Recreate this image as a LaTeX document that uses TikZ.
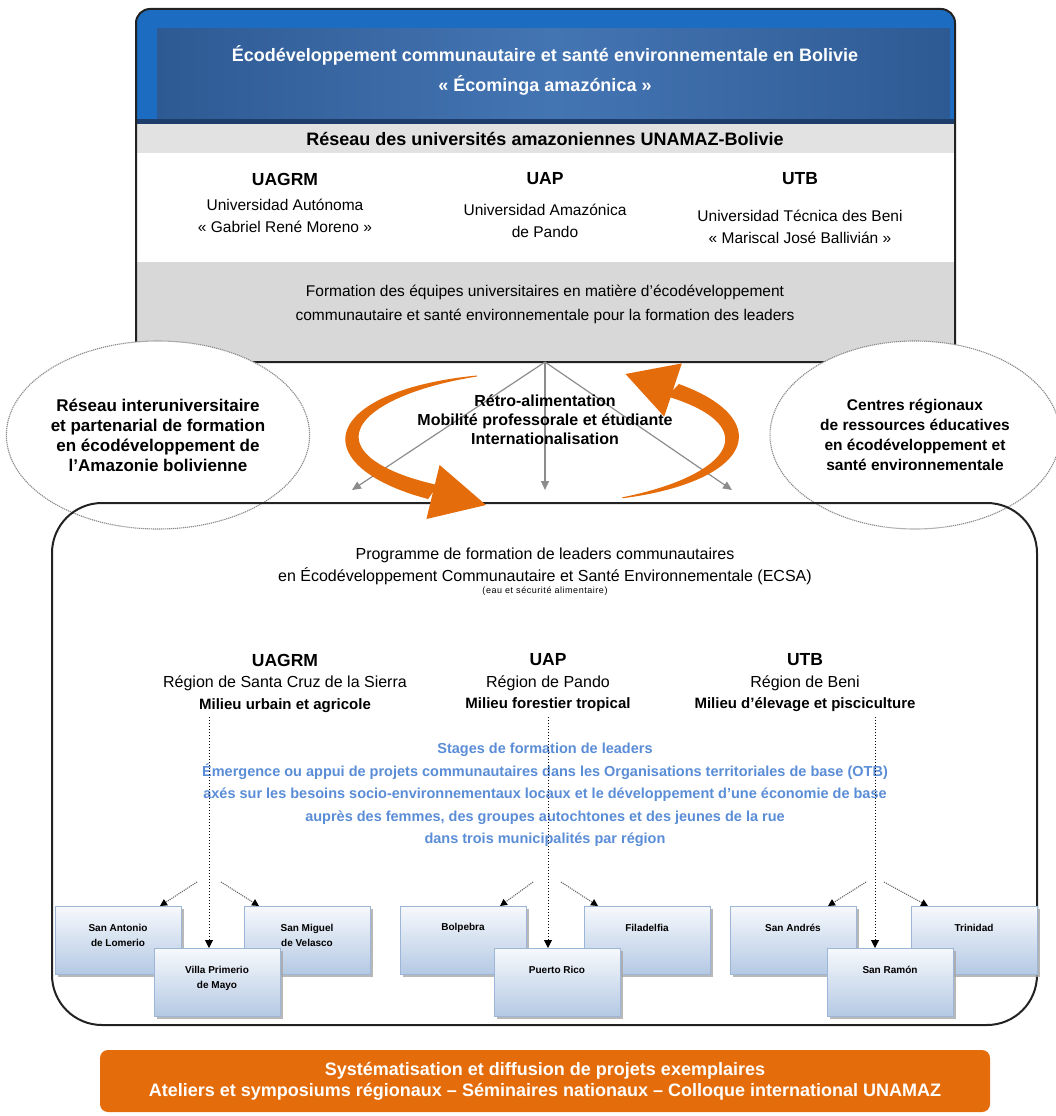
\documentclass[tikz,border=0pt]{standalone}
\usepackage{fontspec}
\setmainfont{Liberation Sans}
\usetikzlibrary{shapes.geometric,arrows.meta,shadows,calc}
\definecolor{topblue}{HTML}{1C6DC2}
\definecolor{innerdark}{HTML}{2E5A93}
\definecolor{innerlight}{HTML}{4475B3}
\definecolor{navyline}{HTML}{1D3D6B}
\definecolor{bandgray}{HTML}{E2E2E2}
\definecolor{lowgray}{HTML}{D8D8D8}
\definecolor{orng}{HTML}{E46C0A}
\definecolor{bluetxt}{HTML}{5A8DD6}
\definecolor{boxtop}{HTML}{F7F9FC}
\definecolor{boxbot}{HTML}{B4C9E4}
\definecolor{boxedge}{HTML}{9DB5D6}
\definecolor{arrowgray}{HTML}{8C8C8C}
\definecolor{ringgray}{HTML}{8A8A8A}
\definecolor{darkline}{HTML}{222222}
\newcommand{\fsz}[2]{\fontsize{#1}{#2}\selectfont}
\begin{document}
\begin{tikzpicture}[x=1pt,y=-1pt,
  every node/.style={inner sep=0pt,outer sep=0pt},
  ttl/.style={text=white,font=\bfseries\fsz{18}{30},align=center},
  bandt/.style={font=\bfseries\fsz{18}{22}},
  acr/.style={font=\bfseries\fsz{17.5}{21}},
  uname/.style={font=\fsz{15.5}{22},align=center},
  formt/.style={font=\fsz{15.5}{24},align=center},
  ringl/.style={ellipse,draw=ringgray,fill=white,line width=1.1,dash pattern=on 1.2pt off 0.8pt,align=center},
  ctrt/.style={font=\bfseries\fsz{16}{19},align=center},
  progt/.style={font=\fsz{16}{22},align=center},
  regt/.style={font=\fsz{16}{21.5},align=center},
  bluet/.style={font=\bfseries\fsz{14.5}{22.5},text=bluetxt,align=center},
  smallbox/.style={draw=boxedge,line width=0.8,top color=boxtop,bottom color=boxbot,
     minimum width=126,minimum height=68,anchor=north,
     drop shadow={shadow xshift=3pt,shadow yshift=-3pt,fill=black!35,opacity=0.8}},
  boxt/.style={font=\bfseries\fsz{10}{15},align=center},
  garrow/.style={draw=arrowgray,line width=1.2,-{Triangle[width=8pt,length=9pt]}},
  vdot/.style={draw=black,line width=1,dotted,-{Triangle[width=8pt,length=8pt]}},
  ddot/.style={draw=black!60,line width=1.1,densely dotted,-{Triangle[width=7pt,length=7pt,black]}},
]
\useasboundingbox (0,0) rectangle (1055,1116);

% ---------- top box ----------
\begin{scope}
\clip (136,362) -- (136,23) arc[start angle=180,end angle=270,radius=14] -- (941,9)
      arc[start angle=270,end angle=360,radius=14] -- (955,362) -- cycle;
\fill[topblue] (136,9) rectangle (955,124);
\shade[left color=innerdark,right color=innerdark,middle color=innerlight] (157,29) rectangle (950,119);
\fill[navyline] (136,119) rectangle (955,124);
\fill[bandgray] (136,124) rectangle (955,153);
\fill[white] (136,153) rectangle (955,262);
\fill[lowgray] (136,262) rectangle (955,362);
\end{scope}
\draw[darkline,line width=2] (136,362) -- (136,23) arc[start angle=180,end angle=270,radius=14] -- (941,9)
      arc[start angle=270,end angle=360,radius=14] -- (955,362) -- cycle;

\node[ttl] (title) at (545,70) {Écodéveloppement communautaire et santé environnementale en Bolivie\\« Écominga amazónica »};
\node[bandt] (reseau) at (545,139) {Réseau des universités amazoniennes UNAMAZ-Bolivie};
\node[acr] (u1) at (285,179) {UAGRM};
\node[acr] (u2) at (545,179) {UAP};
\node[acr] (u3) at (800,179) {UTB};
\node[uname] (u1n) at (285,216) {Universidad Autónoma\\« Gabriel René Moreno »};
\node[uname] (u2n) at (545,221) {Universidad Amazónica\\de Pando};
\node[uname] (u3n) at (800,227) {Universidad Técnica des Beni\\« Mariscal José Ballivián »};
\node[formt] (form) at (545,304) {Formation des équipes universitaires en matière d’écodéveloppement\\communautaire et santé environnementale pour la formation des leaders};

% ---------- side ellipses ----------
\node[ringl,minimum width=296,minimum height=188,font=\bfseries\fsz{17}{20}] (ringL) at (158,435)
  {Réseau interuniversitaire\\et partenarial de formation\\en écodéveloppement de\\l’Amazonie bolivienne};
\node[ringl,minimum width=290,minimum height=188,font=\bfseries\fsz{15.5}{20}] (ringR) at (915,435)
  {Centres régionaux\\de ressources éducatives\\en écodéveloppement et\\santé environnementale};

% ---------- lower box ----------
\node[draw=darkline,line width=2,rounded corners=50,minimum width=985,minimum height=522] (lowbox) at (544.5,764) {};

% ---------- gray arrows ----------
\coordinate (apex) at (545,362);
\coordinate (g1) at (352,490);
\coordinate (g2) at (545,490);
\coordinate (g3) at (732,490);
\draw[garrow] (apex) -- (g1);
\draw[garrow] (apex) -- (g2);
\draw[garrow] (apex) -- (g3);
\node[ctrt] (cyc) at (545,420) {Rétro-alimentation\\Mobilité professorale et étudiante\\Internationalisation};

% ---------- programme ----------
\node[progt] (prog) at (545,566) {Programme de formation de leaders communautaires\\en Écodéveloppement Communautaire et Santé Environnementale (ECSA)};
\node[font=\fsz{9}{10}\addfontfeature{LetterSpace=6}] (eau) at (545,591) {(eau et sécurité alimentaire)};

\node[regt] (r1) at (285,683) {{\bfseries\fsz{17.5}{21.5}UAGRM}\\Région de Santa Cruz de la Sierra\\{\bfseries\fsz{15}{21.5}Milieu urbain et agricole}};
\node[regt] (r2) at (548,683) {{\bfseries\fsz{17.5}{21.5}UAP}\\Région de Pando\\{\bfseries\fsz{15}{21.5}Milieu forestier tropical}};
\node[regt] (r3) at (805,683) {{\bfseries\fsz{17.5}{21.5}UTB}\\Région de Beni\\{\bfseries\fsz{15}{21.5}Milieu d’élevage et pisciculture}};

\node[bluet] (stages) at (545,795) {Stages de formation de leaders\\Émergence ou appui de projets communautaires dans les Organisations territoriales de base (OTB)\\axés sur les besoins socio-environnementaux locaux et le développement d’une économie de base\\auprès des femmes, des groupes autochtones et des jeunes de la rue\\dans trois municipalités par région};

% ---------- municipality boxes ----------
\node[smallbox] (sa) at (118,906) {};
\node[smallbox] (sm) at (307,906) {};
\node[smallbox] (bo) at (463,906) {};
\node[smallbox] (fi) at (647,906) {};
\node[smallbox] (an) at (793,906) {};
\node[smallbox] (tr) at (974,906) {};
\node[boxt] (saT) at ($(sa.north)+(0,29.5)$) {San Antonio\\de Lomerio};
\node[boxt] (smT) at ($(sm.north)+(0,29.5)$) {San Miguel\\de Velasco};
\node[boxt] (boT) at ($(bo.north)+(0,22)$) {Bolpebra};
\node[boxt] (fiT) at ($(fi.north)+(0,22)$) {Filadelfia};
\node[boxt] (anT) at ($(an.north)+(0,22)$) {San Andrés};
\node[boxt] (trT) at ($(tr.north)+(0,22)$) {Trinidad};
\node[smallbox] (vi) at (217,948) {};
\node[smallbox] (pr) at (557,948) {};
\node[smallbox] (ra) at (890,948) {};
\node[boxt] (viT) at ($(vi.north)+(0,30)$) {Villa Primerio\\de Mayo};
\node[boxt] (prT) at ($(pr.north)+(0,22)$) {Puerto Rico};
\node[boxt] (raT) at ($(ra.north)+(0,22)$) {San Ramón};

% vertical dotted arrows
\coordinate (v1) at (209,717);
\coordinate (v2) at (548,717);
\coordinate (v3) at (875,717);
\draw[vdot] (v1) -- (vi.north -| v1);
\draw[vdot] (v2) -- (pr.north -| v2);
\draw[vdot] (v3) -- (ra.north -| v3);

% diagonal dotted arrows
\coordinate (d1) at (197,882);
\coordinate (d2) at (221,882);
\coordinate (d3) at (533,882);
\coordinate (d4) at (561,882);
\coordinate (d5) at (866,882);
\coordinate (d6) at (884,882);
\draw[ddot] (d1) -- ([xshift=42pt]sa.north);
\draw[ddot] (d2) -- ([xshift=-48pt]sm.north);
\draw[ddot] (d3) -- ([xshift=37pt]bo.north);
\draw[ddot] (d4) -- ([xshift=-49pt]fi.north);
\draw[ddot] (d5) -- ([xshift=35pt]an.north);
\draw[ddot] (d6) -- ([xshift=-46pt]tr.north);

% ---------- orange bottom bar ----------
\node[fill=orng,rounded corners=8,minimum width=890,minimum height=62,text=white,
      font=\bfseries\fsz{18}{21},align=center] (sys) at (545,1081)
  {Systématisation et diffusion de projets exemplaires\\Ateliers et symposiums régionaux – Séminaires nationaux – Colloque international UNAMAZ};

% ---------- orange cycle arrows ----------
\fill[orng] plot[domain=250:125,samples=50,variable=\t]
   ({542+(190+0.5+8*sin(90*(250-\t)/125))*cos(\t)},{438+(66+0.5+8*sin(90*(250-\t)/125))*sin(\t)})
  -- plot[domain=125:250,samples=50,variable=\t]
   ({542+(190-0.5-8*sin(90*(250-\t)/125))*cos(\t)},{438+(66-0.5-8*sin(90*(250-\t)/125))*sin(\t)})
  -- cycle;
\fill[orng] (426.4,519) -- (486,505) -- (439.6,465) -- cycle;
\fill[orng] plot[domain=65:-46.4,samples=50,variable=\t]
   ({542+(190+0.5+8*sin(90*(65-\t)/111.4))*cos(\t)},{438+(66+0.5+8*sin(90*(65-\t)/111.4))*sin(\t)})
  -- plot[domain=-46.4:65,samples=50,variable=\t]
   ({542+(190-0.5-8*sin(90*(65-\t)/111.4))*cos(\t)},{438+(66-0.5-8*sin(90*(65-\t)/111.4))*sin(\t)})
  -- cycle;
\fill[orng] (681.8,363.4) -- (625.5,374) -- (664.2,416.6) -- cycle;
\end{tikzpicture}
\end{document}
